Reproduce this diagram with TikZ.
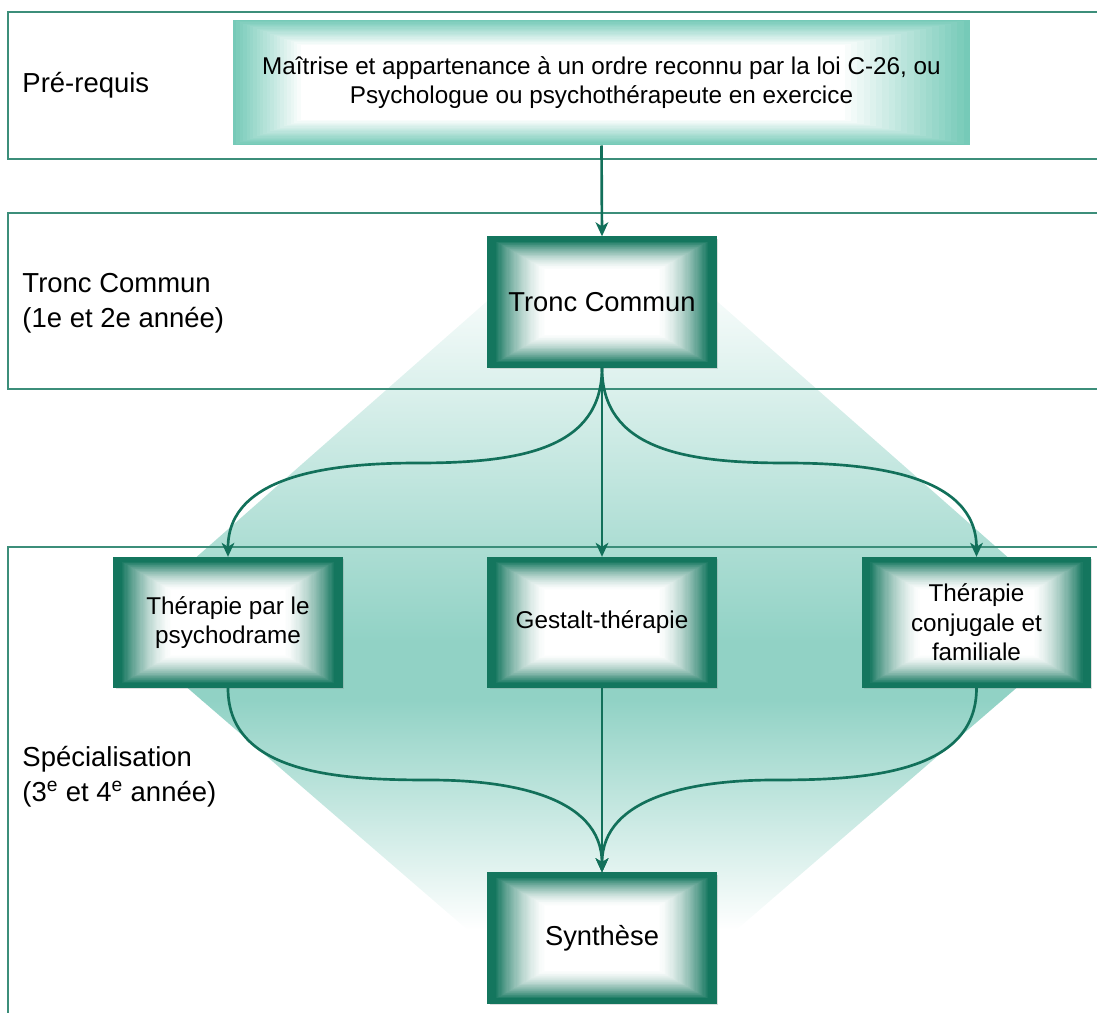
\documentclass[tikz,border=0pt]{standalone}
\usepackage{fontspec}
\setmainfont{Liberation Sans}
\usetikzlibrary{arrows.meta,calc,shadows}

\definecolor{framegreen}{RGB}{20,118,94}
\definecolor{arrowgreen}{RGB}{18,112,90}
\definecolor{bandline}{RGB}{60,142,122}
\definecolor{prereqteal}{RGB}{118,202,184}
\definecolor{diamondteal}{RGB}{145,210,197}

\tikzset{every picture/.style={line width=0.75pt}}
\tikzset{
  stagebox/.style={draw=framegreen, line width=1pt, minimum width=171pt, minimum height=97.5pt, inner sep=2pt, align=center,
    font=\fontsize{18.2}{22}\selectfont,
    drop shadow={opacity=0.25, shadow xshift=1.2pt, shadow yshift=-1.2pt},
    path picture={
      \coordinate (pp-sw) at (path picture bounding box.south west);
      \coordinate (pp-ne) at (path picture bounding box.north east);
      \coordinate (pp-c) at (path picture bounding box.center);
      \foreach \n [evaluate=\n as \fc using \n/100, evaluate=\n as \pc using {int(min(100,100*(max(0,52-\n)/46)^1.6))}] in {0,...,56}
        \fill[framegreen!\pc!white] ($(pp-sw)!\fc!(pp-c)$) rectangle ($(pp-ne)!\fc!(pp-c)$);
    }},
  prereqbox/.style={minimum width=552.75pt, minimum height=93.75pt, inner sep=2pt, align=center,
    font=\fontsize{18.2}{21.8}\selectfont,
    path picture={
      \coordinate (pp-sw) at (path picture bounding box.south west);
      \coordinate (pp-se) at (path picture bounding box.south east);
      \coordinate (pp-nw) at (path picture bounding box.north west);
      \coordinate (pp-ne) at (path picture bounding box.north east);
      \foreach \n [evaluate=\n as \fl using \n*0.0046, evaluate=\n as \fr using \n*0.0085, evaluate=\n as \fy using \n*0.01, evaluate=\n as \pc using {int(100-5*\n)}] in {0,...,20}
        \fill[prereqteal!\pc!white] ($(pp-sw)!\fl!(pp-se) + (pp-sw)!\fy!(pp-nw) - (pp-sw)$) rectangle ($(pp-ne)!\fr!(pp-nw) + (pp-ne)!\fy!(pp-se) - (pp-ne)$);
    }},
  bandlabel/.style={anchor=west, inner sep=0pt, align=left, font=\fontsize{20.6}{26}\selectfont},
  bandrule/.style={draw=bandline, line width=1.3pt},
  flow/.style={draw=arrowgreen, line width=2pt, -{Stealth[length=10.5pt,width=9.5pt,inset=3pt]}}
}

\begin{document}
\begin{tikzpicture}[x=0.75pt,y=0.75pt,yscale=-1,xscale=1]
\useasboundingbox (0,0) rectangle (1097,1013);

%Shape: Diamond (background shading)
\begin{scope}
\clip (602,200) -- (117,627) -- (602,1046) -- (1087,627) -- cycle;
\shade[top color=white, bottom color=diamondteal] (100,265) rectangle (1100,641);
\fill[diamondteal] (100,640) rectangle (1100,701);
\shade[top color=diamondteal, bottom color=white] (100,700) rectangle (1100,930);
\end{scope}

%Straight Lines (bands)
\draw[bandrule] (1097,12) -- (8,12) -- (8,159) -- (1097,159);
\draw[bandrule] (1097,213) -- (8,213) -- (8,389) -- (1097,389);
\draw[bandrule] (1097,547) -- (8,547) -- (8,1013);

% Text Node
\node[bandlabel] (lblprereq) at (22,85) {Pré-requis};
% Text Node
\node[bandlabel] (lbltronc) at (22,303) {Tronc Commun\\(1e et 2e année)};
% Text Node
\node[bandlabel] (lblspec) at (22,777) {Spécialisation\\(3\textsuperscript{e} et 4\textsuperscript{e} année)};

%Shape: Rectangle
\node[prereqbox] (prereq) at (601.5,82.5) {Maîtrise et appartenance à un ordre reconnu par la loi C-26, ou\\Psychologue ou psychothérapeute en exercice};
%Shape: Rectangle
\node[stagebox, font=\fontsize{20.5}{24}\selectfont] (tronc) at (602,302) {Tronc Commun};
%Shape: Rectangle
\node[stagebox] (psy) at (228,622.5) {Thérapie par le\\psychodrame};
%Shape: Rectangle
\node[stagebox] (gestalt) at (602,622.5) {Gestalt-thérapie};
%Shape: Rectangle
\node[stagebox] (conj) at (976.5,622.5) {Thérapie\\conjugale et\\familiale};
%Shape: Rectangle
\node[stagebox, font=\fontsize{20.5}{24}\selectfont] (synth) at (602,938) {Synthèse};

\coordinate (lsplit) at (418,463);
\coordinate (rsplit) at (786,463);
\coordinate (ljoin) at (430,780);
\coordinate (rjoin) at (774,780);

%Straight Lines
\draw[flow] (prereq.south) -- (tronc.north);
\draw[flow] (tronc.south) -- (gestalt.north);
\draw[flow] (gestalt.south) -- (synth.north);
%Curve Lines
\draw[flow] (tronc.south) .. controls +(0,81) and +(103,0) .. (lsplit) .. controls +(-83,0) and +(0,-83) .. (psy.north);
\draw[flow] (tronc.south) .. controls +(0,81) and +(-103,0) .. (rsplit) .. controls +(83,0) and +(0,-83) .. (conj.north);
%Curve Lines
\draw[flow] (psy.south) .. controls +(0,87) and +(-87,0) .. (ljoin) .. controls +(77,0) and +(0,-77) .. (synth.north);
\draw[flow] (conj.south) .. controls +(0,87) and +(87,0) .. (rjoin) .. controls +(-77,0) and +(0,-77) .. (synth.north);

\end{tikzpicture}
\end{document}
